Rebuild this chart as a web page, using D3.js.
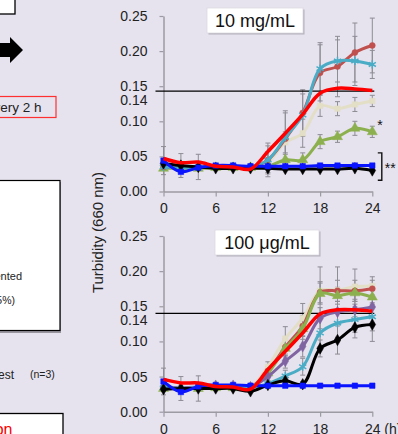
<!DOCTYPE html>
<html>
<head>
<meta charset="utf-8">
<script src="https://cdn.jsdelivr.net/npm/d3@7"></script>
<style>
html, body { margin: 0; padding: 0; background: #e6e2ee; overflow: hidden; }
svg { display: block; font-family: "Liberation Sans", Arial, sans-serif; }
</style>
</head>
<body>
<svg id="chart" width="398" height="434"></svg>
<script>
// sampling times (h)
const hours = [0, 2, 4, 6, 8, 10, 12, 14, 16, 18, 20, 22, 24];
const xTicks = [0, 6, 12, 18, 24];
const yTicks = [0, 0.05, 0.10, 0.15, 0.20, 0.25];

// 10 mg/mL panel
const topTitle = "10 mg/mL";
const topThreshold = 0.143;
const topDarkRed = [0.035, 0.034, 0.035, 0.035, 0.035, 0.034, 0.045, 0.075, 0.112, 0.169, 0.178, 0.198, 0.208];
const topDarkRedErr = [0.002, 0.002, 0.002, 0.002, 0.002, 0.002, 0.024, 0.040, 0.033, 0.040, 0.043, 0.042, 0.039];
const topTeal = [0.035, 0.034, 0.035, 0.036, 0.036, 0.035, 0.045, 0.077, 0.109, 0.175, 0.186, 0.186, 0.181];
const topTealErr = [0.002, 0.002, 0.002, 0.002, 0.002, 0.002, 0.020, 0.035, 0.030, 0.037, 0.030, 0.035, 0.020];
const topCream = [0.034, 0.033, 0.034, 0.035, 0.035, 0.034, 0.042, 0.070, 0.083, 0.122, 0.118, 0.124, 0.129];
const topCreamErr = [0.002, 0.002, 0.002, 0.002, 0.002, 0.002, 0.015, 0.015, 0.020, 0.015, 0.010, 0.010, 0.008];
const topGreen = [0.033, 0.033, 0.033, 0.034, 0.034, 0.034, 0.036, 0.045, 0.045, 0.071, 0.078, 0.090, 0.085];
const topGreenErr = [0.002, 0.002, 0.002, 0.002, 0.002, 0.002, 0.005, 0.008, 0.010, 0.010, 0.008, 0.010, 0.008];
const topBlack = [0.040, 0.037, 0.035, 0.033, 0.033, 0.033, 0.033, 0.032, 0.032, 0.032, 0.032, 0.033, 0.030];
const topBlackErr = [0.003, 0.017, 0.018, 0.002, 0.002, 0.002, 0.002, 0.002, 0.002, 0.002, 0.002, 0.002, 0.002];
const topBlue = [0.044, 0.028, 0.034, 0.037, 0.037, 0.036, 0.036, 0.036, 0.036, 0.037, 0.037, 0.037, 0.037];
const topBlueErr = [0.020, 0.003, 0.002, 0.002, 0.002, 0.002, 0.002, 0.002, 0.002, 0.002, 0.002, 0.002, 0.002];
const topRed = [0.047, 0.041, 0.042, 0.036, 0.035, 0.032, 0.057, 0.083, 0.110, 0.140, 0.147, 0.146, 0.144];

// 100 μg/mL panel
const botTitle = "100 μg/mL";
const botThreshold = 0.140;
const botCream = [0.034, 0.033, 0.034, 0.035, 0.035, 0.035, 0.064, 0.104, 0.133, 0.172, 0.173, 0.178, 0.179];
const botCreamErr = [0.002, 0.002, 0.002, 0.002, 0.002, 0.002, 0.007, 0.017, 0.021, 0.034, 0.033, 0.025, 0.013];
const botDarkRed = [0.034, 0.033, 0.034, 0.035, 0.035, 0.035, 0.058, 0.092, 0.122, 0.170, 0.172, 0.172, 0.175];
const botDarkRedErr = [0.002, 0.002, 0.002, 0.002, 0.002, 0.002, 0.006, 0.012, 0.015, 0.015, 0.015, 0.015, 0.012];
const botGreen = [0.033, 0.033, 0.033, 0.034, 0.034, 0.034, 0.055, 0.090, 0.118, 0.168, 0.165, 0.169, 0.163];
const botGreenErr = [0.002, 0.002, 0.002, 0.002, 0.002, 0.002, 0.006, 0.012, 0.015, 0.015, 0.012, 0.012, 0.010];
const botPurple = [0.035, 0.034, 0.035, 0.037, 0.037, 0.035, 0.050, 0.072, 0.093, 0.133, 0.142, 0.145, 0.149];
const botPurpleErr = [0.002, 0.002, 0.002, 0.002, 0.002, 0.002, 0.006, 0.010, 0.015, 0.015, 0.015, 0.015, 0.015];
const botTeal = [0.034, 0.033, 0.034, 0.035, 0.035, 0.034, 0.040, 0.051, 0.064, 0.112, 0.126, 0.131, 0.135];
const botTealErr = [0.002, 0.002, 0.002, 0.002, 0.002, 0.002, 0.004, 0.008, 0.012, 0.020, 0.020, 0.018, 0.020];
const botBlack = [0.032, 0.033, 0.033, 0.033, 0.033, 0.029, 0.038, 0.044, 0.039, 0.090, 0.102, 0.120, 0.124];
const botBlackErr = [0.003, 0.017, 0.018, 0.002, 0.002, 0.002, 0.003, 0.004, 0.004, 0.012, 0.020, 0.015, 0.024];
const botBlue = [0.043, 0.028, 0.036, 0.038, 0.038, 0.037, 0.037, 0.037, 0.037, 0.037, 0.037, 0.037, 0.037];
const botBlueErr = [0.019, 0.003, 0.002, 0.002, 0.002, 0.002, 0.002, 0.002, 0.002, 0.002, 0.002, 0.002, 0.002];
const botRed = [0.046, 0.041, 0.041, 0.036, 0.035, 0.032, 0.060, 0.086, 0.112, 0.139, 0.145, 0.145, 0.143];

const col = {
    darkred: "#c0504d", teal: "#4bacc6", cream: "#e3dfc6", green: "#8db04f",
    purple: "#8064a2", black: "#000000", blue: "#0a14ff", red: "#ff0000"
}

const mk = (vals, err) => hours.map((t, i) => ({ t, v: vals[i], e: err ? err[i] : 0 }))

// draw order: back to front
const panels = [
    {
        title: topTitle, threshold: topThreshold,
        top: 16, bottom: 191.5, box: [207, 8, 96, 25], hUnit: false,
        series: [
            { c: col.cream, d: mk(topCream, topCreamErr), m: "square" },
            { c: col.green, d: mk(topGreen, topGreenErr), m: "triangle" },
            { c: col.darkred, d: mk(topDarkRed, topDarkRedErr), m: "circle" },
            { c: col.teal, d: mk(topTeal, topTealErr), m: "star" },
            { c: col.black, d: mk(topBlack, topBlackErr), m: "diamond" },
            { c: col.blue, d: mk(topBlue, topBlueErr), m: "square" },
            { c: col.red, d: mk(topRed), m: null, w: 3.5 },
        ],
    },
    {
        title: botTitle, threshold: botThreshold,
        top: 236, bottom: 411.7, box: [215, 230, 104, 25], hUnit: true,
        series: [
            { c: col.cream, d: mk(botCream, botCreamErr), m: "square" },
            { c: col.darkred, d: mk(botDarkRed, botDarkRedErr), m: "circle" },
            { c: col.green, d: mk(botGreen, botGreenErr), m: "triangle" },
            { c: col.purple, d: mk(botPurple, botPurpleErr), m: "diamond" },
            { c: col.teal, d: mk(botTeal, botTealErr), m: "star" },
            { c: col.black, d: mk(botBlack, botBlackErr), m: "diamond" },
            { c: col.blue, d: mk(botBlue, botBlueErr), m: "square" },
            { c: col.red, d: mk(botRed), m: null, w: 3.5 },
        ],
    },
]

const svg = d3.select("#chart")
svg.append("rect").attr("width", 398).attr("height", 434).attr("fill", "#e6e2ee")

// ---- pieces of the neighbouring figure (cut off at the left edge)
const left = svg.append("g")
left.append("rect").attr("x", -30).attr("y", -20).attr("width", 45).attr("height", 34)
    .attr("fill", "#fff").attr("stroke", "#000").attr("stroke-width", 1.3)
left.append("path").attr("d", "M-5,43 L10,43 L10,37 L23,50 L10,63 L10,57 L-5,57 Z").attr("fill", "#000")
left.append("rect").attr("x", -40).attr("y", 96.5).attr("width", 96).attr("height", 21)
    .attr("fill", "none").attr("stroke", "#ff3030").attr("stroke-width", 1.2)
left.append("text").attr("x", 41.5).attr("y", 111.5).attr("text-anchor", "end")
    .attr("font-size", 13.5).attr("fill", "#222").text("Measured every 2 h")
left.append("rect").attr("x", -39).attr("y", 182).attr("width", 100).attr("height", 151).attr("fill", "#9a96a0")
left.append("rect").attr("x", -40).attr("y", 180.5).attr("width", 100).attr("height", 150)
    .attr("fill", "#fff").attr("stroke", "#000").attr("stroke-width", 1.2)
left.append("text").attr("x", 22).attr("y", 279.5).attr("text-anchor", "end")
    .attr("font-size", 11).attr("fill", "#222").text("supplemented")
left.append("text").attr("x", 15).attr("y", 303.5).attr("text-anchor", "end")
    .attr("font-size", 10.5).attr("fill", "#222").text("(2.5%)")
left.append("text").attr("x", 14).attr("y", 379).attr("text-anchor", "end")
    .attr("font-size", 12).attr("fill", "#222").text("t-test")
left.append("text").attr("x", 30).attr("y", 378).attr("font-size", 10.5).attr("fill", "#222").text("(n=3)")
left.append("rect").attr("x", -40).attr("y", 413.5).attr("width", 103).attr("height", 40)
    .attr("fill", "#fff").attr("stroke", "#000").attr("stroke-width", 1.3)
left.append("text").attr("x", 12.5).attr("y", 434.5).attr("text-anchor", "end")
    .attr("font-size", 16).attr("fill", "#ff0000").text("Validation")

// ---- shared y label
svg.append("text")
    .attr("transform", "translate(97,232.5) rotate(-90)")
    .attr("text-anchor", "middle").attr("dominant-baseline", "central")
    .attr("font-size", 15).attr("fill", "#222")
    .text("Turbidity (660 nm)")

const x = d3.scaleLinear().domain([0, 24]).range([163.5, 372.3])

const symbolFor = {
    circle: d3.symbol(d3.symbolCircle, 28),
    square: d3.symbol(d3.symbolSquare, 30),
    diamond: d3.symbol(d3.symbolDiamond, 38),
    triangle: d3.symbol(d3.symbolTriangle, 44),
    star: d3.symbol(d3.symbolAsterisk, 48),
}

panels.forEach((p) => {
    const y = d3.scaleLinear().domain([0, 0.25]).range([p.bottom, p.top])
    const g = svg.append("g")

    // axes
    const yAxis = g.append("g").attr("transform", `translate(${x(0)},0)`)
        .call(d3.axisLeft(y).tickValues(yTicks).tickFormat(d3.format(".2f"))
            .tickSize(4).tickSizeOuter(0).tickPadding(12))
    const xAxis = g.append("g").attr("transform", `translate(0,${y(0)})`)
        .call(d3.axisBottom(x).tickValues(xTicks).tickSize(5).tickSizeOuter(0).tickPadding(7))
    ;[xAxis, yAxis].forEach(a => {
        a.select(".domain").attr("stroke", "#9c9aa2").attr("stroke-width", 1.5)
        a.selectAll(".tick line").attr("stroke", "#9c9aa2").attr("stroke-width", 1.2)
        a.selectAll("text").attr("font-size", 14).attr("fill", "#222")
            .attr("font-family", '"Liberation Sans", Arial, sans-serif')
    })
    // extra 0.14 label for the threshold
    g.append("text").attr("x", x(0) - 16).attr("y", y(0.14) + 7.5).attr("dy", "0.32em")
        .attr("text-anchor", "end").attr("font-size", 14).attr("fill", "#222").text("0.14")
    if (p.hUnit) {
        g.append("text").attr("x", x(24) + 12).attr("y", y(0) + 5 + 7).attr("dy", "0.71em")
            .attr("font-size", 14).attr("fill", "#222").text("(h)")
    }

    // error bars
    const eb = g.append("g").attr("stroke", "#8e8c94").attr("stroke-width", 1)
    p.series.forEach(s => {
        s.d.filter(d => d.e > 0.003).forEach(d => {
            const xx = x(d.t), y1 = y(d.v + d.e), y2 = y(d.v - d.e)
            eb.append("line").attr("x1", xx).attr("x2", xx).attr("y1", y1).attr("y2", y2)
            eb.append("line").attr("x1", xx - 2.5).attr("x2", xx + 2.5).attr("y1", y1).attr("y2", y1)
            eb.append("line").attr("x1", xx - 2.5).attr("x2", xx + 2.5).attr("y1", y2).attr("y2", y2)
        })
    })

    // threshold line
    g.append("line").attr("x1", x(0) - 8).attr("x2", x(24) + 2)
        .attr("y1", y(p.threshold)).attr("y2", y(p.threshold))
        .attr("stroke", "#000").attr("stroke-width", 1.3)

    const line = d3.line().x(d => x(d.t)).y(d => y(d.v)).curve(d3.curveCatmullRom.alpha(0.5))

    p.series.forEach(s => {
        g.append("path").datum(s.d).attr("d", line)
            .attr("fill", "none").attr("stroke", s.c).attr("stroke-width", s.w || 3)
            .attr("stroke-linejoin", "round")
        if (!s.m) return
        g.selectAll(null).data(s.d).enter().append("path")
            .attr("transform", d => `translate(${x(d.t)},${y(d.v)})`)
            .attr("d", symbolFor[s.m])
            .attr("fill", s.m === "star" ? "none" : s.c)
            .attr("stroke", s.c).attr("stroke-width", s.m === "star" ? 1.5 : 0.5)
    })

    // title box
    const [bx, by, bw, bh] = p.box
    g.append("rect").attr("x", bx + 1.5).attr("y", by + 1.5).attr("width", bw).attr("height", bh)
        .attr("fill", "#b4b0bb")
    g.append("rect").attr("x", bx).attr("y", by).attr("width", bw).attr("height", bh)
        .attr("fill", "#fff").attr("stroke", "#dcd9e0").attr("stroke-width", 0.8)
    g.append("text").attr("x", bx + bw / 2).attr("y", by + bh / 2).attr("dy", "0.36em")
        .attr("text-anchor", "middle").attr("font-size", 18).attr("fill", "#111").text(p.title)

    // significance marks (top panel only)
    if (!p.hUnit) {
        g.append("text").attr("x", x(24) + 5).attr("y", y(0.088)).attr("font-size", 14)
            .attr("fill", "#111").text("*")
        const bx1 = x(24) + 9.5
        g.append("path")
            .attr("d", `M${bx1 - 4},${y(0.055)} H${bx1} V${y(0.016)} H${bx1 - 4}`)
            .attr("fill", "none").attr("stroke", "#111").attr("stroke-width", 1.4)
        g.append("text").attr("x", bx1 + 3).attr("y", y(0.026)).attr("font-size", 14)
            .attr("fill", "#111").text("**")
    }
})
</script>
</body>
</html>
